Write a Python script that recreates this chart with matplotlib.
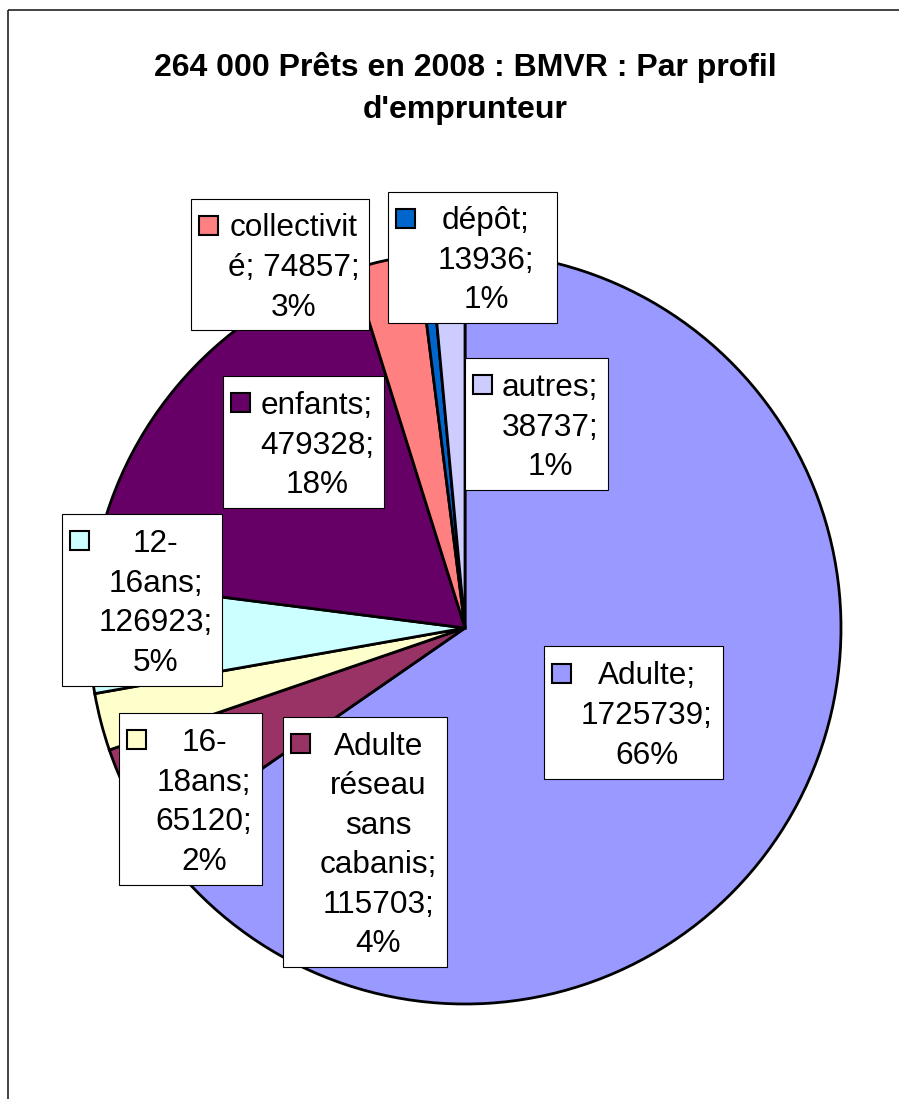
import textwrap
import matplotlib
matplotlib.use("Agg")
import matplotlib.pyplot as plt
from matplotlib.patches import Rectangle

# data, in pie order (clockwise from 12 o'clock)
categories = ["Adulte", "Adulte réseau sans cabanis", "16-18ans", "12-16ans",
              "enfants", "collectivité", "dépôt", "autres"]
values = [1725739, 115703, 65120, 126923, 479328, 74857, 13936, 38737]
percents = [66, 4, 2, 5, 18, 3, 1, 1]
colors = ["#9999FF", "#993366", "#FFFFCC", "#CCFFFF",
          "#660066", "#FF8080", "#0066CC", "#CCCCFF"]

title = "264 000 Prêts en 2008 : BMVR : Par profil\nd'emprunteur"

# label boxes: left, top, right, bottom (pixels) and wrap width
boxes = [(544, 646, 723, 779, 8), (283, 717, 447, 967, 8),
         (119, 713, 262, 885, 6), (62, 514, 222, 686, 7),
         (223, 376, 384, 508, 8), (191, 199, 369, 330, 11),
         (388, 192, 557, 323, 6), (465, 358, 608, 490, 7)]

W, H = 899, 1099
fig = plt.figure(figsize=(W / 100, H / 100), dpi=100)

# pie axes: centre (465, 628), radius 376 px
cx, cy, r = 465, 628, 376
ax = fig.add_axes([(cx - r) / W, 1 - (cy + r) / H, 2 * r / W, 2 * r / H])
ax.pie(values, colors=colors, startangle=90, counterclock=False,
       wedgeprops=dict(edgecolor="black", linewidth=2.0))
ax.set_xlim(-1, 1)
ax.set_ylim(-1, 1)
ax.set_aspect("equal")
ax.axis("off")

# overlay in pixel coordinates for the frame, title and labels
ov = fig.add_axes([0, 0, 1, 1], zorder=5)
ov.set_xlim(0, W)
ov.set_ylim(H, 0)
ov.axis("off")
ov.patch.set_alpha(0)

ov.add_patch(Rectangle((8, 10), W + 20, H + 20, fill=False,
                       edgecolor="#222222", linewidth=1.2))

font = "Liberation Sans"
ov.text(465, 76, title.split("\n")[0], ha="center", va="baseline",
        fontsize=23, fontweight="bold", family=font)
ov.text(465, 118, title.split("\n")[1], ha="center", va="baseline",
        fontsize=23, fontweight="bold", family=font)

fs = 22.7
step = 39.5
for name, v, p, c, (l, t, rt, b, wrap) in zip(categories, values, percents,
                                              colors, boxes):
    ov.add_patch(Rectangle((l, t), rt - l, b - t, facecolor="white",
                           edgecolor="black", linewidth=0.8))
    lines = textwrap.wrap(f"{name}; {v}; {p}%", width=wrap)
    n = len(lines)
    mid = (t + b) / 2
    first = mid - (n - 1) / 2 * step
    ov.add_patch(Rectangle((l + 8, first - 9.5), 19, 19, facecolor=c,
                           edgecolor="black", linewidth=1.5))
    tx = (l + 27 + rt) / 2
    for i, line in enumerate(lines):
        ov.text(tx, first + i * step + 11.5, line, ha="center", va="baseline",
                fontsize=fs, family=font)

fig.savefig("out.png", dpi=100)
